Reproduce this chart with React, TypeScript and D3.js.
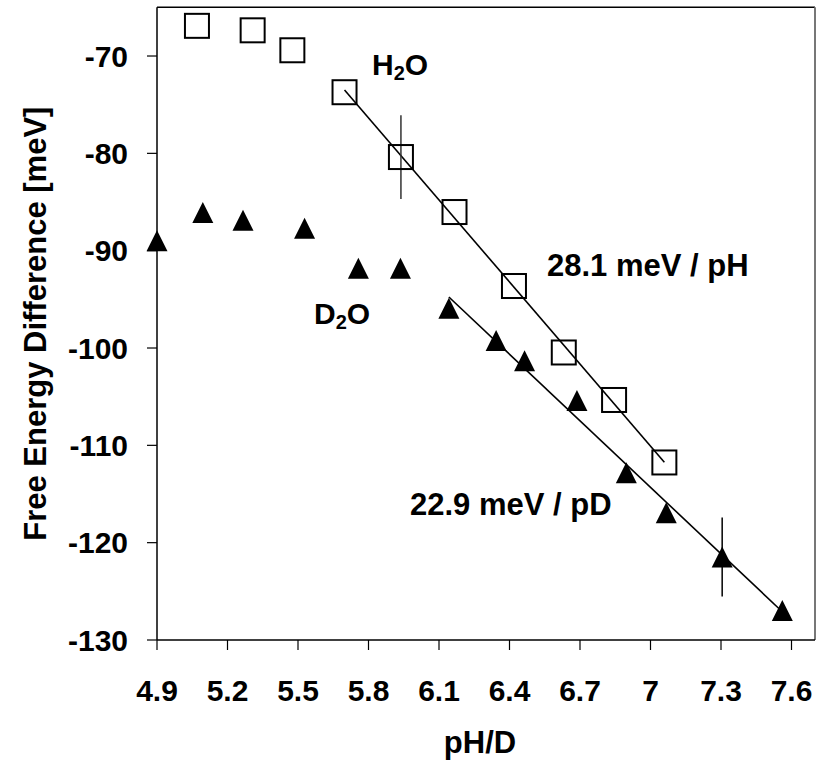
import React from "react";
import * as d3 from "d3";

// H2O series (squares)
const phH2O = [5.07, 5.307, 5.476, 5.698, 5.938, 6.166, 6.419, 6.631, 6.845, 7.059];
const dgH2O = [-66.9, -67.36, -69.41, -73.72, -80.38, -86.03, -93.63, -100.46, -105.34, -111.76];
const errH2O = [0, 0, 0, 0, 4.3, 0, 0, 0, 0, 0];

// D2O series (triangles)
const pdD2O = [4.9, 5.095, 5.266, 5.528, 5.757, 5.936, 6.142, 6.343, 6.464, 6.687, 6.897, 7.067, 7.305, 7.561];
const dgD2O = [-88.98, -86.08, -86.87, -87.69, -91.81, -91.81, -95.91, -99.23, -101.32, -105.39, -112.82, -116.93, -121.47, -126.97];
const errD2O = [0, 0, 0, 0, 0, 0, 0, 0, 0, 0, 0, 0, 4.06, 0];

// linear fit endpoints
const fitH2OX = [5.698, 7.059];
const fitH2OY = [-73.49, -111.74];
const fitD2OX = [6.142, 7.561];
const fitD2OY = [-94.76, -127.1];

const xTicks = [4.9, 5.2, 5.5, 5.8, 6.1, 6.4, 6.7, 7.0, 7.3, 7.6];
const xTickLabels = ["4.9", "5.2", "5.5", "5.8", "6.1", "6.4", "6.7", "7", "7.3", "7.6"];
const yTicks = [-70, -80, -90, -100, -110, -120, -130];

const FONT = "'Liberation Sans', Arial, sans-serif";

export default function App() {
  const W = 817;
  const H = 760;
  const left = 157, right = 815, top = 7.35, bottom = 640;
  const x = d3.scaleLinear().domain([4.9, 7.7]).range([left, right]);
  const y = d3.scaleLinear().domain([-130, -65]).range([bottom, top]);
  const line = d3.line<[number, number]>().x((d) => x(d[0])).y((d) => y(d[1]));
  const fitH = line(fitH2OX.map((v, i) => [v, fitH2OY[i]] as [number, number])) || "";
  const fitD = line(fitD2OX.map((v, i) => [v, fitD2OY[i]] as [number, number])) || "";
  const sq = 24;
  const tw = 21, th = 21;

  return (
    <svg
      width={W}
      height={H}
      style={{ position: "absolute", left: 0, top: 0, background: "#fff" }}
      fontFamily={FONT}
      fontWeight="bold"
    >
      <rect x={0} y={0} width={W} height={H} fill="#fff" />
      {/* frame */}
      <line x1={left} x2={right} y1={top} y2={top} stroke="#000" strokeWidth={1.5} />
      <line x1={right} x2={right} y1={top} y2={bottom} stroke="#777" strokeWidth={2} />
      <line x1={left} x2={left} y1={top} y2={bottom} stroke="#000" strokeWidth={1.5} />
      <line x1={left} x2={right} y1={bottom} y2={bottom} stroke="#000" strokeWidth={1.5} />

      {/* y ticks */}
      {yTicks.map((t) => (
        <g key={"y" + t}>
          <line x1={left - 10} x2={left} y1={y(t)} y2={y(t)} stroke="#000" strokeWidth={1.2} />
          <text x={128} y={y(t)} dy="0.36em" textAnchor="end" fontSize={30}>
            {t}
          </text>
        </g>
      ))}
      {/* x ticks */}
      {xTicks.map((t, i) => (
        <g key={"x" + t}>
          <line x1={x(t)} x2={x(t)} y1={bottom} y2={bottom + 10} stroke="#000" strokeWidth={1.2} />
          <text x={x(t)} y={701} textAnchor="middle" fontSize={30}>
            {xTickLabels[i]}
          </text>
        </g>
      ))}

      {/* axis titles */}
      <text x={480} y={753} textAnchor="middle" fontSize={31}>
        pH/D
      </text>
      <text
        transform={`translate(46, ${(top + bottom) / 2}) rotate(-90)`}
        textAnchor="middle"
        fontSize={31}
      >
        Free Energy Difference [meV]
      </text>

      {/* fit lines */}
      <path d={fitH} fill="none" stroke="#000" strokeWidth={1.6} />
      <path d={fitD} fill="none" stroke="#000" strokeWidth={1.6} />

      {/* error bars */}
      {phH2O.map((v, i) =>
        errH2O[i] > 0 ? (
          <line key={"eh" + i} x1={x(v)} x2={x(v)} y1={y(dgH2O[i] + errH2O[i])} y2={y(dgH2O[i] - errH2O[i])} stroke="#333" strokeWidth={1.5} />
        ) : null
      )}
      {pdD2O.map((v, i) =>
        errD2O[i] > 0 ? (
          <line key={"ed" + i} x1={x(v)} x2={x(v)} y1={y(dgD2O[i] + errD2O[i])} y2={y(dgD2O[i] - errD2O[i])} stroke="#000" strokeWidth={1.5} />
        ) : null
      )}

      {/* H2O squares */}
      {phH2O.map((v, i) => (
        <rect
          key={"s" + i}
          x={x(v) - sq / 2}
          y={y(dgH2O[i]) - sq / 2}
          width={sq}
          height={sq}
          fill="none"
          stroke="#000"
          strokeWidth={2}
        />
      ))}
      {/* D2O triangles */}
      {pdD2O.map((v, i) => {
        const cx = x(v);
        const cy = y(dgD2O[i]);
        return (
          <path
            key={"t" + i}
            d={`M${cx},${cy - th / 2}L${cx + tw / 2},${cy + th / 2}L${cx - tw / 2},${cy + th / 2}Z`}
            fill="#000"
          />
        );
      })}

      {/* labels */}
      <text x={372} y={75} fontSize={30}>
        H<tspan fontSize={20} dy={5}>2</tspan>
        <tspan dy={-5}>O</tspan>
      </text>
      <text x={314} y={324} fontSize={30}>
        D<tspan fontSize={20} dy={5}>2</tspan>
        <tspan dy={-5}>O</tspan>
      </text>
      <text x={547} y={276} fontSize={31}>
        28.1 meV / pH
      </text>
      <text x={410} y={515} fontSize={31}>
        22.9 meV / pD
      </text>
    </svg>
  );
}
